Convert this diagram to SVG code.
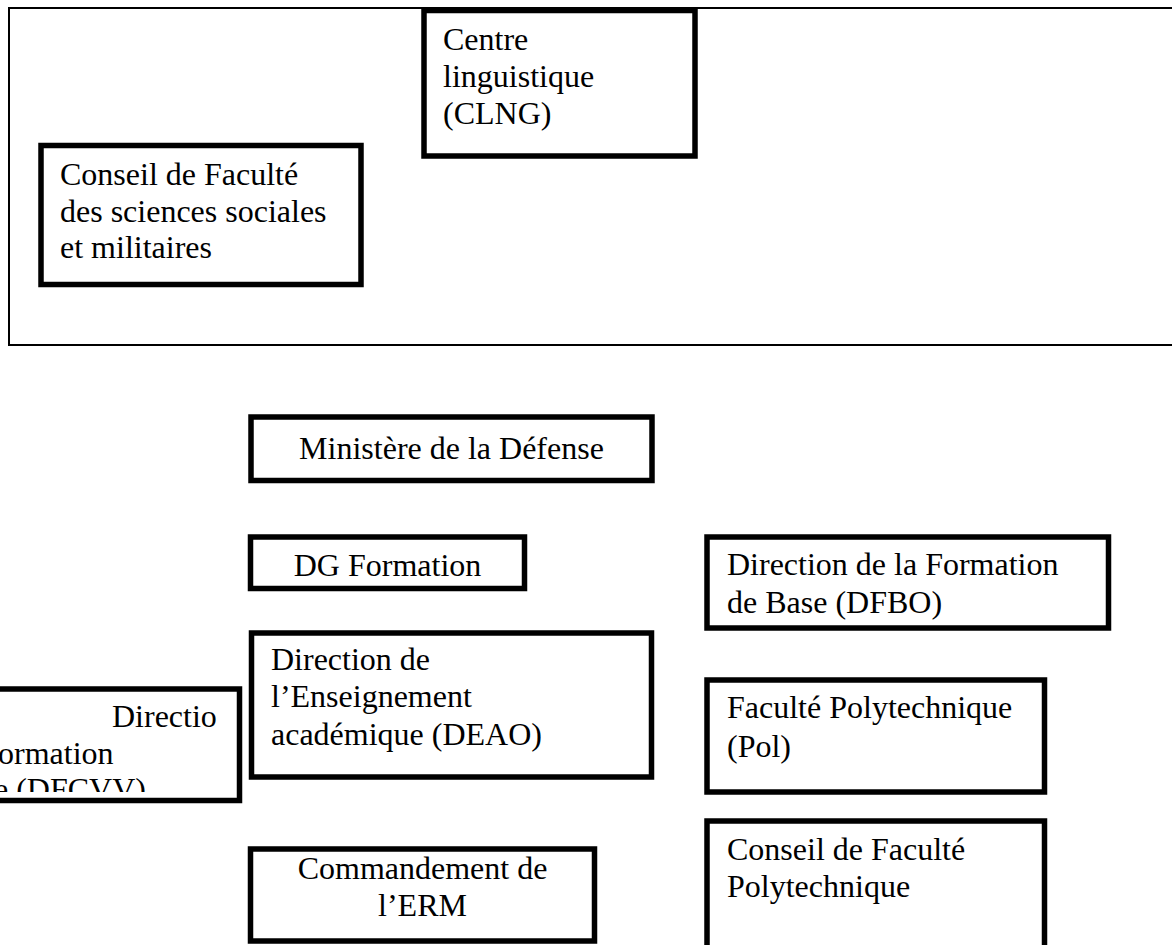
<svg xmlns="http://www.w3.org/2000/svg" width="1172" height="945" viewBox="0 0 1172 945">
  <style>
    .frame { fill: none; stroke: #000; stroke-width: 2; }
    .box { fill: #fff; stroke: #000; stroke-width: 5.5; }
    .t { font-family: "Liberation Serif", "Times New Roman", serif; font-size: 32px; fill: #000; }
    .c { text-anchor: middle; }
  </style>
  <defs>
    <clipPath id="clipLeft">
      <rect x="-20" y="692" width="257" height="100"/>
    </clipPath>
  </defs>
  <rect width="1172" height="945" fill="#fff"/>
  <g id="frame">
    <rect class="frame" x="9" y="8" width="1200" height="337"/>
  </g>
  <g id="connectors"></g>
  <g id="node-clng">
    <rect class="box" x="424" y="10.5" width="271" height="145.5"/>
    <text class="t" x="443" y="50">Centre</text>
    <text class="t" x="443" y="87">linguistique</text>
    <text class="t" x="443" y="124">(CLNG)</text>
  </g>
  <g id="node-conseil-ssm">
    <rect class="box" x="41" y="145.5" width="320" height="139"/>
    <text class="t" x="60" y="185">Conseil de Faculté</text>
    <text class="t" x="60" y="221.5">des sciences sociales</text>
    <text class="t" x="60" y="258">et militaires</text>
  </g>
  <g id="node-ministere">
    <rect class="box" x="251" y="417" width="401" height="63.5"/>
    <text class="t c" x="451.5" y="459">Ministère de la Défense</text>
  </g>
  <g id="node-dgformation">
    <rect class="box" x="250.5" y="537" width="274" height="51.5"/>
    <text class="t c" x="387.5" y="576">DG Formation</text>
  </g>
  <g id="node-dfbo">
    <rect class="box" x="707" y="537" width="401.5" height="91"/>
    <text class="t" x="727" y="575">Direction de la Formation</text>
    <text class="t" x="727" y="613">de Base (DFBO)</text>
  </g>
  <g id="node-deao">
    <rect class="box" x="251.5" y="633" width="400" height="144"/>
    <text class="t" x="271" y="670">Direction de</text>
    <text class="t" x="271" y="707">l’Enseignement</text>
    <text class="t" x="271" y="745">académique (DEAO)</text>
  </g>
  <g id="node-dfcvv">
    <rect class="box" x="-10" y="689" width="249.5" height="111.5"/>
    <g clip-path="url(#clipLeft)">
      <text class="t" x="112" y="727">Directio</text>
      <text class="t" x="-2" y="763.5">ormation</text>
      <text class="t" x="-6" y="800">e (DFCVV)</text>
    </g>
  </g>
  <g id="node-pol">
    <rect class="box" x="707" y="680" width="337.5" height="112"/>
    <text class="t" x="727" y="718">Faculté Polytechnique</text>
    <text class="t" x="727" y="757">(Pol)</text>
  </g>
  <g id="node-conseil-pol">
    <rect class="box" x="707" y="821" width="337.5" height="200"/>
    <text class="t" x="727" y="860">Conseil de Faculté</text>
    <text class="t" x="727" y="897">Polytechnique</text>
  </g>
  <g id="node-erm">
    <rect class="box" x="250.5" y="849" width="344" height="92"/>
    <text class="t c" x="422.5" y="879">Commandement de</text>
    <text class="t c" x="422.5" y="916">l’ERM</text>
  </g>
</svg>
